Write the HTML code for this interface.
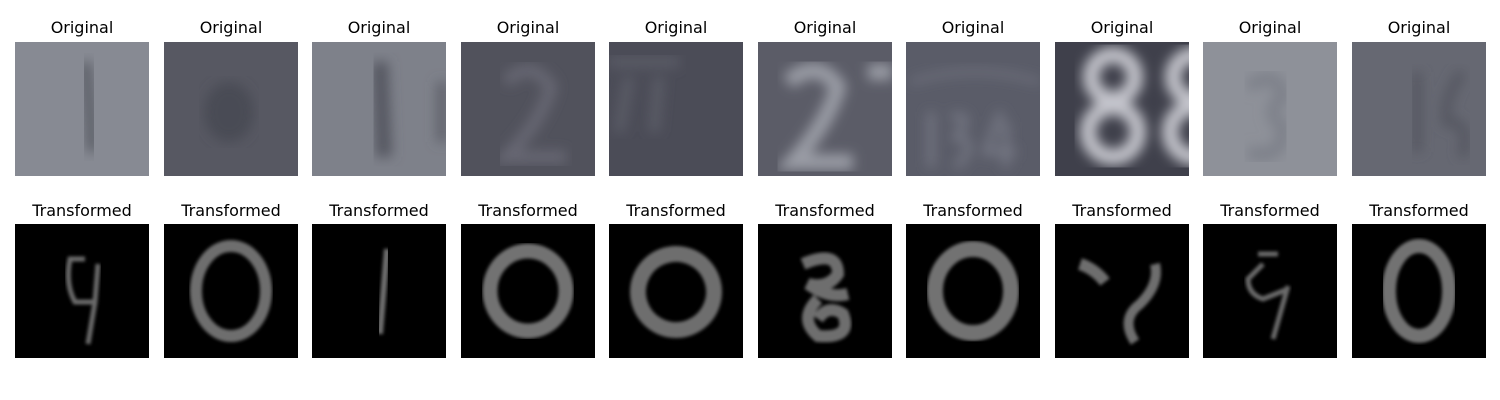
<!DOCTYPE html>
<html><head><meta charset="utf-8"><style>
body{margin:0;width:1500px;height:400px;background:#fff;position:relative;overflow:hidden;font-family:"DejaVu Sans","Liberation Sans",sans-serif}
.t{position:absolute;width:160px;text-align:center;font-size:16px;color:#000;line-height:18px}
svg{position:absolute}
</style></head><body>
<svg width="0" height="0" style="position:absolute"><defs>
<filter id="b1"><feGaussianBlur stdDeviation="1.5"/></filter>
<filter id="b2"><feGaussianBlur stdDeviation="6"/></filter>
</defs></svg>
<div id="root"></div>
<script>
const xs=[15,164,312,461,609,758,906,1055,1203,1352];
const origBg=["#878a93","#575862","#7e818a","#51525c","#4b4c57","#5b5c67","#5a5c68","#3f404b","#8e9199","#666872"];
const origMark=[
 '<path d="M70 20 L75 70 L78 110" stroke="#5f626b" stroke-width="14" fill="none"/>',
 '<ellipse cx="65" cy="70" rx="25" ry="30" fill="#4a4b55"/>',
 '<path d="M68 20 L72 115" stroke="#555761" stroke-width="16" fill="none"/><path d="M130 40 L130 100" stroke="#5d5f68" stroke-width="10"/>',
 '<path d="M45 40 Q70 15 90 45 Q80 80 45 115 L105 115" stroke="#676873" stroke-width="12" fill="none"/>',
 '<path d="M0 20 L70 20 M20 35 L10 90 M50 35 L45 90" stroke="#5c5d68" stroke-width="10" fill="none"/>',
 '<path d="M30 40 Q60 15 80 45 Q70 80 35 120 L95 120 M110 30 L134 30" stroke="#9a9ca5" stroke-width="16" fill="none"/>',
 '<path d="M5 40 Q67 20 134 40" stroke="#777985" stroke-width="4" fill="none"/><path d="M25 70 L25 125 M45 75 Q70 70 50 95 Q75 100 50 125 M95 70 L80 110 L110 110 M100 80 L100 125" stroke="#767884" stroke-width="7" fill="none"/>',
 '<circle cx="58" cy="35" r="22" fill="none" stroke="#c4c5cc" stroke-width="16"/><circle cx="58" cy="90" r="25" fill="none" stroke="#c4c5cc" stroke-width="16"/><circle cx="140" cy="35" r="22" fill="none" stroke="#c4c5cc" stroke-width="16"/><circle cx="140" cy="90" r="25" fill="none" stroke="#c4c5cc" stroke-width="16"/>',
 '<path d="M45 45 Q75 25 80 55 Q60 70 80 85 Q80 120 45 110" stroke="#7e818a" stroke-width="14" fill="none"/>',
 '<path d="M65 30 L65 110 M110 30 Q90 60 95 80 Q120 80 110 115" stroke="#555761" stroke-width="10" fill="none"/>'
];
const transMark=[
 '<path d="M70 35 L55 35 Q50 60 60 78 L80 78 L83 40 M80 78 L73 120" stroke="#6a6a6a" stroke-width="5" fill="none"/>',
 '<ellipse cx="67" cy="67" rx="35" ry="45" fill="none" stroke="#6e6e6e" stroke-width="12"/>',
 '<path d="M75 25 L68 110" stroke="#6e6e6e" stroke-width="6" fill="none"/>',
 '<ellipse cx="67" cy="67" rx="38" ry="40" fill="none" stroke="#727272" stroke-width="15"/>',
 '<ellipse cx="67" cy="68" rx="38" ry="38" fill="none" stroke="#6e6e6e" stroke-width="16" transform="rotate(-20 67 68)"/>',
 '<path d="M45 40 Q80 25 80 50 Q70 65 50 60 Q70 75 90 70 M60 75 Q40 95 60 112 Q95 115 85 90 Q70 80 60 95" stroke="#6e6e6e" stroke-width="12" fill="none"/>',
 '<ellipse cx="67" cy="67" rx="38" ry="42" fill="none" stroke="#727272" stroke-width="16"/>',
 '<path d="M25 40 Q40 45 50 58" stroke="#6e6e6e" stroke-width="12" fill="none"/><path d="M100 40 Q105 60 85 80 Q65 95 80 118" stroke="#6e6e6e" stroke-width="10" fill="none"/>',
 '<path d="M60 40 L45 55 Q45 70 60 75 L85 65 M85 62 L70 115 M55 30 L75 30" stroke="#6a6a6a" stroke-width="5" fill="none"/>',
 '<ellipse cx="67" cy="67" rx="30" ry="45" fill="none" stroke="#727272" stroke-width="14"/>'
];
const root=document.getElementById('root');
xs.forEach((x,i)=>{
 let t=document.createElement('div');t.className='t';t.style.left=(x+67-80)+'px';t.style.top='19px';t.textContent='Original';
 
 
 root.appendChild(t);
 let t2=document.createElement('div');t2.className='t';t2.style.left=(x+67-80)+'px';t2.style.top='202px';t2.textContent='Transformed';
 
 
 root.appendChild(t2);
 let s=document.createElementNS('http://www.w3.org/2000/svg','svg');
 s.setAttribute('width',134);s.setAttribute('height',134);s.setAttribute('viewBox','0 0 134 134');
 s.style.left=x+'px';s.style.top='42px';
 s.innerHTML='<rect width="134" height="134" fill="'+origBg[i]+'"/><g filter="url(#b2)">'+origMark[i]+'</g>';
 
 
 root.appendChild(s);
 let s2=document.createElementNS('http://www.w3.org/2000/svg','svg');
 s2.setAttribute('width',134);s2.setAttribute('height',134);s2.setAttribute('viewBox','0 0 134 134');
 s2.style.left=x+'px';s2.style.top='224px';
 s2.innerHTML='<rect width="134" height="134" fill="#000"/><g filter="url(#b1)">'+transMark[i]+'</g>';
 
 
 root.appendChild(s2);
});
</script>
</body></html>
